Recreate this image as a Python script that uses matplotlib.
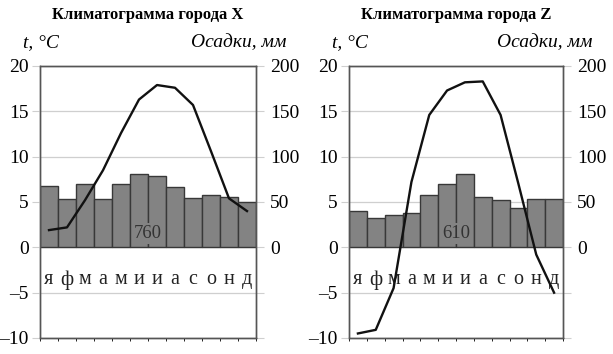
import numpy as np
import matplotlib
matplotlib.use('Agg')
import matplotlib.pyplot as plt

plt.rcParams['font.family'] = ['Liberation Serif', 'DejaVu Serif']

# Months (Russian initials)
months = ['я', 'ф', 'м', 'а', 'м', 'и', 'и', 'а', 'с', 'о', 'н', 'д']

# City X
temp_x = [1.9, 2.2, 5.2, 8.5, 12.6, 16.3, 17.9, 17.6, 15.7, 10.6, 5.4, 4.0]
prec_x = [68, 53, 70, 53, 70, 81, 79, 67, 54, 58, 55, 50]
total_x = '760'

# City Z
temp_z = [-9.5, -9.1, -4.5, 7.2, 14.6, 17.3, 18.2, 18.3, 14.6, 7.0, -0.8, -5.0]
prec_z = [40, 32, 36, 38, 58, 70, 81, 56, 52, 43, 53, 53]
total_z = '610'

bar_color = '#838383'
grid_color = '#cfcfcf'


def draw_climatogram(ax, title, temps, precip, total):
    x = np.arange(12)
    ax2 = ax.twinx()
    # line axis on top of bars
    ax.set_zorder(ax2.get_zorder() + 1)
    ax.patch.set_visible(False)

    ax2.bar(x, precip, width=1.0, color=bar_color, edgecolor='#383838', linewidth=1.0, zorder=2)
    ax2.set_ylim(-100, 200)
    ax2.set_yticks([-100, -50, 0, 50, 100, 150, 200],
                   labels=['', '', '0', '50', '100', '150', '200'])
    ax2.set_axisbelow(True)
    ax2.grid(axis='y', color=grid_color, linewidth=0.9)
    ax2.set_xticks(np.arange(-0.5, 12, 1), minor=True)
    ax2.grid(axis='x', which='minor', color=grid_color, linewidth=0.9)
    ax2.tick_params(axis='y', length=6, color=grid_color, pad=4, labelsize=14)

    ax.plot(x, temps, color='#111111', linewidth=1.7, zorder=5)
    ax.set_xlim(-0.5, 11.5)
    ax.set_ylim(-10, 20)
    ax.set_yticks(range(-10, 21, 5), labels=['–10', '–5', '0', '5', '10', '15', '20'])
    ax.tick_params(axis='y', length=6, color=grid_color, pad=2, labelsize=14)
    ax.set_xticks([])
    ax2.tick_params(axis='x', which='both', length=0)

    for spine in list(ax.spines.values()) + list(ax2.spines.values()):
        spine.set_color('#555555')
        spine.set_linewidth(1.0)

    for i, m in enumerate(months):
        ax.text(i, -3.6, m, ha='center', va='center', fontsize=14.5, color='#222222')

    ax.text(5.5, 1.5, total, ha='center', va='center', fontsize=13.5, color='#333333',
            bbox=dict(facecolor=bar_color, edgecolor='none', pad=1.5), zorder=6)

    ax.set_title(title, fontsize=12, fontweight='bold', pad=34)
    ax.text(-0.08, 1.085, 't, °C', transform=ax.transAxes, ha='left', va='center',
            fontsize=14, style='italic')
    ax.text(1.14, 1.085, 'Осадки, мм', transform=ax.transAxes, ha='right', va='center',
            fontsize=14, style='italic')


fig = plt.figure(figsize=(6.13, 3.54), dpi=100)
ax_left = fig.add_axes([40 / 613, 16 / 354, 216 / 613, 272 / 354])
ax_right = fig.add_axes([349 / 613, 16 / 354, 214 / 613, 272 / 354])

draw_climatogram(ax_left, 'Климатограмма города X', temp_x, prec_x, total_x)
draw_climatogram(ax_right, 'Климатограмма города Z', temp_z, prec_z, total_z)

fig.savefig('out.png', dpi=100)
